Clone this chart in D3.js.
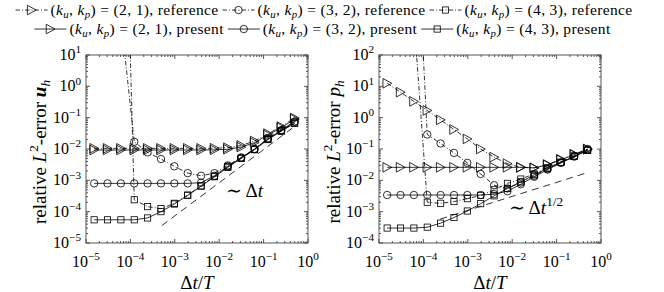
<!DOCTYPE html>
<html><head><meta charset="utf-8">
<script src="https://cdn.jsdelivr.net/npm/d3@7"></script>
<style>
body{margin:0;background:#fff}
svg{display:block}
text{font-family:"Liberation Serif","DejaVu Serif",serif;fill:#000}
</style>
</head><body>
<svg id="c" width="664" height="292"></svg>
<script>
// ---- data (Δt/T, increasing) ----
const dtT = [1.526e-5, 3.052e-5, 6.104e-5, 1.221e-4, 2.441e-4, 4.883e-4, 9.766e-4, 1.953e-3, 3.906e-3, 7.813e-3, 1.563e-2, 3.125e-2, 6.25e-2, 0.125, 0.25, 0.5];

// velocity error u_h
const uRefTri = [1.05e-2, 1.05e-2, 1.05e-2, 1.05e-2, 1.05e-2, 1.05e-2, 1.05e-2, 1.05e-2, 1.05e-2, 1.06e-2, 1.1e-2, 1.3e-2, 1.8e-2, 3.1e-2, 5.2e-2, 9.8e-2];
const uRefCir = [1e3, 1e3, 150, 1.7e-2, 7.8e-3, 4.8e-3, 2.8e-3, 1.7e-3, 1.4e-3, 1.7e-3, 3.0e-3, 5.4e-3, 1.0e-2, 2.2e-2, 4.0e-2, 7.6e-2];
const uRefSq  = [1e12, 1e12, 1e12, 2.4e-4, 1.45e-4, 1.25e-4, 1.85e-4, 3.4e-4, 6.7e-4, 1.35e-3, 2.7e-3, 5.1e-3, 9.7e-3, 2.05e-2, 3.8e-2, 6.8e-2];
const uPreTri = [9.3e-3, 9.3e-3, 9.3e-3, 9.3e-3, 9.3e-3, 9.3e-3, 9.3e-3, 9.3e-3, 9.3e-3, 9.4e-3, 9.8e-3, 1.15e-2, 1.6e-2, 2.8e-2, 4.8e-2, 9.0e-2];
const uPreCir = [8e-4, 8e-4, 8e-4, 8e-4, 8e-4, 8e-4, 8e-4, 8e-4, 8.4e-4, 1.4e-3, 2.8e-3, 5.2e-3, 1.0e-2, 2.1e-2, 3.9e-2, 7.3e-2];
const uPreSq  = [5.5e-5, 5.5e-5, 5.5e-5, 5.5e-5, 6.3e-5, 1.0e-4, 1.75e-4, 3.3e-4, 6.5e-4, 1.3e-3, 2.6e-3, 5.0e-3, 9.5e-3, 2.0e-2, 3.7e-2, 6.6e-2];
const uSlopeX = [5.1e-4, 0.556];
const uSlopeY = [3.6e-5, 0.059];

// pressure error p_h
const pRefTri = [12.5, 6.5, 3.3, 1.7, 0.85, 0.42, 0.21, 0.1, 0.055, 0.034, 0.026, 0.025, 0.032, 0.047, 0.068, 0.1];
const pRefCir = [1e9, 1e9, 1e8, 0.29, 0.15, 0.075, 0.036, 0.016, 7e-3, 5.5e-3, 8.5e-3, 0.014, 0.023, 0.037, 0.06, 0.1];
const pRefSq  = [1e6, 1e6, 1500, 2e-3, 1.85e-3, 2.1e-3, 2.6e-3, 3.3e-3, 5e-3, 8e-3, 0.011, 0.016, 0.025, 0.038, 0.06, 0.092];
const pPreTri = [0.026, 0.026, 0.026, 0.026, 0.026, 0.026, 0.026, 0.026, 0.026, 0.026, 0.026, 0.025, 0.031, 0.045, 0.066, 0.098];
const pPreCir = [3.4e-3, 3.4e-3, 3.4e-3, 3.4e-3, 3.4e-3, 3.4e-3, 3.4e-3, 3.4e-3, 3.6e-3, 4.5e-3, 7.5e-3, 0.013, 0.022, 0.036, 0.057, 0.095];
const pPreSq  = [3e-4, 3e-4, 3e-4, 3.2e-4, 4.3e-4, 6.5e-4, 1.05e-3, 1.8e-3, 3.2e-3, 5.5e-3, 9e-3, 0.015, 0.024, 0.037, 0.058, 0.09];
const pSlopeX = [2.4e-4, 0.52];
const pSlopeY = [5.8e-4, 0.018];

const xTicks = [1e-5, 1e-4, 1e-3, 1e-2, 1e-1, 1];
const xTickLabels = ["−5", "−4", "−3", "−2", "−1", "0"];
const uTicks = [1e-5, 1e-4, 1e-3, 1e-2, 1e-1, 1, 10];
const uTickLabels = ["−5", "−4", "−3", "−2", "−1", "0", "1"];
const pTicks = [1e-4, 1e-3, 1e-2, 1e-1, 1, 10, 100];
const pTickLabels = ["−4", "−3", "−2", "−1", "0", "1", "2"];

const legendVals = ["(2, 1)", "(3, 2)", "(4, 3)"];

// ---- drawing ----
const svg = d3.select('#c');
const DASHDOT = "4.5,2,1,2";

function rich(sel, pieces, fs) {
  let off = 0;
  pieces.forEach(([t, m]) => {
    const ts = sel.append('tspan').text(t);
    let target = 0;
    if (m.startsWith('_')) { target = fs * 0.22; ts.attr('font-size', fs * 0.7); }
    else if (m.startsWith('^')) { target = -fs * 0.42; ts.attr('font-size', fs * 0.7); }
    if (target !== off) { ts.attr('dy', target - off); off = target; }
    if (m.endsWith('i')) ts.attr('font-style', 'italic');
    if (m === 'B') ts.attr('font-weight', 'bold').attr('font-style', 'italic');
  });
  return sel;
}

function marker(g, type, cx, cy) {
  if (type === 'tri') {
    g.append('path').attr('d', `M${cx-4.2},${cy-4.8}L${cx+4.6},${cy}L${cx-4.2},${cy+4.8}Z`);
  } else if (type === 'cir') {
    g.append('circle').attr('cx', cx).attr('cy', cy).attr('r', 3.7);
  } else {
    g.append('rect').attr('x', cx-3.1).attr('y', cy-3.1).attr('width', 6.2).attr('height', 6.2);
  }
}

function panel(id, xr, yDomain, yTicks, yTickLabels, series, slopeX, slopeY, slopeText, ylabelPieces, ylabX) {
  const x = d3.scaleLog().domain([1e-5, 1]).range(xr);
  const y = d3.scaleLog().domain(yDomain).range([243, 55]);
  const g = svg.append('g');
  const [x0, x1] = xr, yb = 243, yt = 55;

  svg.append('clipPath').attr('id', id).append('rect')
    .attr('x', x0).attr('y', yt).attr('width', x1 - x0).attr('height', yb - yt);

  // frame + ticks
  const ax = g.append('g').attr('stroke', '#444').attr('stroke-width', 0.9).attr('fill', 'none');
  ax.append('rect').attr('x', x0).attr('y', yt).attr('width', x1 - x0).attr('height', yb - yt);
  x.ticks().forEach(v => {
    const m = Math.round(v / Math.pow(10, Math.floor(Math.log10(v) + 1e-9)));
    const len = m === 1 ? 4 : 2;
    const px = x(v);
    ax.append('line').attr('x1', px).attr('x2', px).attr('y1', yb).attr('y2', yb - len);
    ax.append('line').attr('x1', px).attr('x2', px).attr('y1', yt).attr('y2', yt + len);
  });
  y.ticks().forEach(v => {
    const m = Math.round(v / Math.pow(10, Math.floor(Math.log10(v) + 1e-9)));
    const len = m === 1 ? 4 : 2;
    const py = y(v);
    ax.append('line').attr('y1', py).attr('y2', py).attr('x1', x0).attr('x2', x0 + len);
    ax.append('line').attr('y1', py).attr('y2', py).attr('x1', x1).attr('x2', x1 - len);
  });

  // tick labels
  xTicks.forEach((v, i) => {
    const t = g.append('text').attr('x', x(v)).attr('y', 267).attr('text-anchor', 'middle').attr('font-size', 16);
    rich(t, [['10', 'n'], [xTickLabels[i], '^']], 16);
  });
  yTicks.forEach((v, i) => {
    const t = g.append('text').attr('x', x0 - 5).attr('y', y(v) + 5).attr('text-anchor', 'end').attr('font-size', 16);
    rich(t, [['10', 'n'], [yTickLabels[i], '^']], 16);
  });

  // axis labels
  const xl = g.append('text').attr('x', (x0 + x1) / 2).attr('y', 289).attr('text-anchor', 'middle').attr('font-size', 19);
  rich(xl, [['Δ', 'n'], ['t', 'i'], ['/', 'n'], ['T', 'i']], 19);
  const yl = g.append('text').attr('transform', `translate(${ylabX},152) rotate(-90)`).attr('text-anchor', 'middle').attr('font-size', 19);
  rich(yl, ylabelPieces, 19);

  // data
  const data = g.append('g').attr('clip-path', `url(#${id})`);
  const line = d3.line().x(d => x(d[0])).y(d => y(d[1]));
  data.append('path').datum(slopeX.map((v, i) => [v, slopeY[i]])).attr('d', line)
    .attr('fill', 'none').attr('stroke', '#000').attr('stroke-width', 0.8).attr('stroke-dasharray', '7,5');
  series.forEach(s => {
    const pts = dtT.map((v, i) => [v, s.vals[i]]);
    data.append('path').datum(pts).attr('d', line).attr('fill', 'none').attr('stroke', '#000')
      .attr('stroke-width', 0.8).attr('stroke-dasharray', s.ref ? DASHDOT : null);
    const mg = data.append('g').attr('fill', 'none').attr('stroke', '#000').attr('stroke-width', 0.8);
    pts.filter(p => p[1] <= yDomain[1] && p[1] >= yDomain[0]).forEach(p => marker(mg, s.m, x(p[0]), y(p[1])));
  });

  // slope label
  const st = g.append('text').attr('x', slopeText.x).attr('y', slopeText.y).attr('font-size', 19);
  rich(st, slopeText.pieces, 19);
}

panel('clipL', [86, 308], [1e-5, 10], uTicks, uTickLabels, [
  { vals: uRefTri, m: 'tri', ref: true },
  { vals: uRefCir, m: 'cir', ref: true },
  { vals: uRefSq, m: 'sq', ref: true },
  { vals: uPreTri, m: 'tri', ref: false },
  { vals: uPreCir, m: 'cir', ref: false },
  { vals: uPreSq, m: 'sq', ref: false }
], uSlopeX, uSlopeY, { x: 226, y: 197, pieces: [['∼ Δ', 'n'], ['t', 'i']] },
  [['relative ', 'n'], ['L', 'i'], ['2', '^'], ['-error ', 'n'], ['u', 'B'], ['h', '_i']], 46);

panel('clipR', [379, 601], [1e-4, 100], pTicks, pTickLabels, [
  { vals: pRefTri, m: 'tri', ref: true },
  { vals: pRefCir, m: 'cir', ref: true },
  { vals: pRefSq, m: 'sq', ref: true },
  { vals: pPreTri, m: 'tri', ref: false },
  { vals: pPreCir, m: 'cir', ref: false },
  { vals: pPreSq, m: 'sq', ref: false }
], pSlopeX, pSlopeY, { x: 509, y: 214, pieces: [['∼ Δ', 'n'], ['t', 'i'], ['1/2', '^']] },
  [['relative ', 'n'], ['L', 'i'], ['2', '^'], ['-error ', 'n'], ['p', 'i'], ['h', '_i']], 340);

// legend
const markersL = ['tri', 'cir', 'sq'];
function legendRow(yb, ref, word, cx, fs) {
  const row = svg.append('g');
  const items = [];
  legendVals.forEach((val, i) => {
    const t = row.append('text').attr('y', yb).attr('font-size', fs).attr('letter-spacing', 0.35);
    rich(t, [['(', 'n'], ['k', 'i'], ['u', '_i'], [', ', 'n'], ['k', 'i'], ['p', '_i'], [') = ' + val + ', ' + word, 'n']], fs);
    items.push({ t, w: t.node().getComputedTextLength(), m: markersL[i] });
  });
  const symW = 32, gap = 3, sep = 4;
  const total = d3.sum(items, d => d.w) + items.length * (symW + gap) + (items.length - 1) * sep;
  let cur = cx - total / 2;
  items.forEach(it => {
    const ly = yb - fs * 0.32;
    const sg = row.append('g').attr('stroke', '#000').attr('stroke-width', 0.8).attr('fill', 'none');
    sg.append('line').attr('x1', cur).attr('x2', cur + symW).attr('y1', ly).attr('y2', ly)
      .attr('stroke-dasharray', ref ? DASHDOT : null);
    marker(sg, it.m, cur + symW / 2, ly);
    it.t.attr('x', cur + symW + gap);
    cur += symW + gap + it.w + sep;
  });
  return total;
}
legendRow(15, true, 'reference', 324, 15.5);
legendRow(34, false, 'present', 322.5, 15.5);
</script>
</body></html>
